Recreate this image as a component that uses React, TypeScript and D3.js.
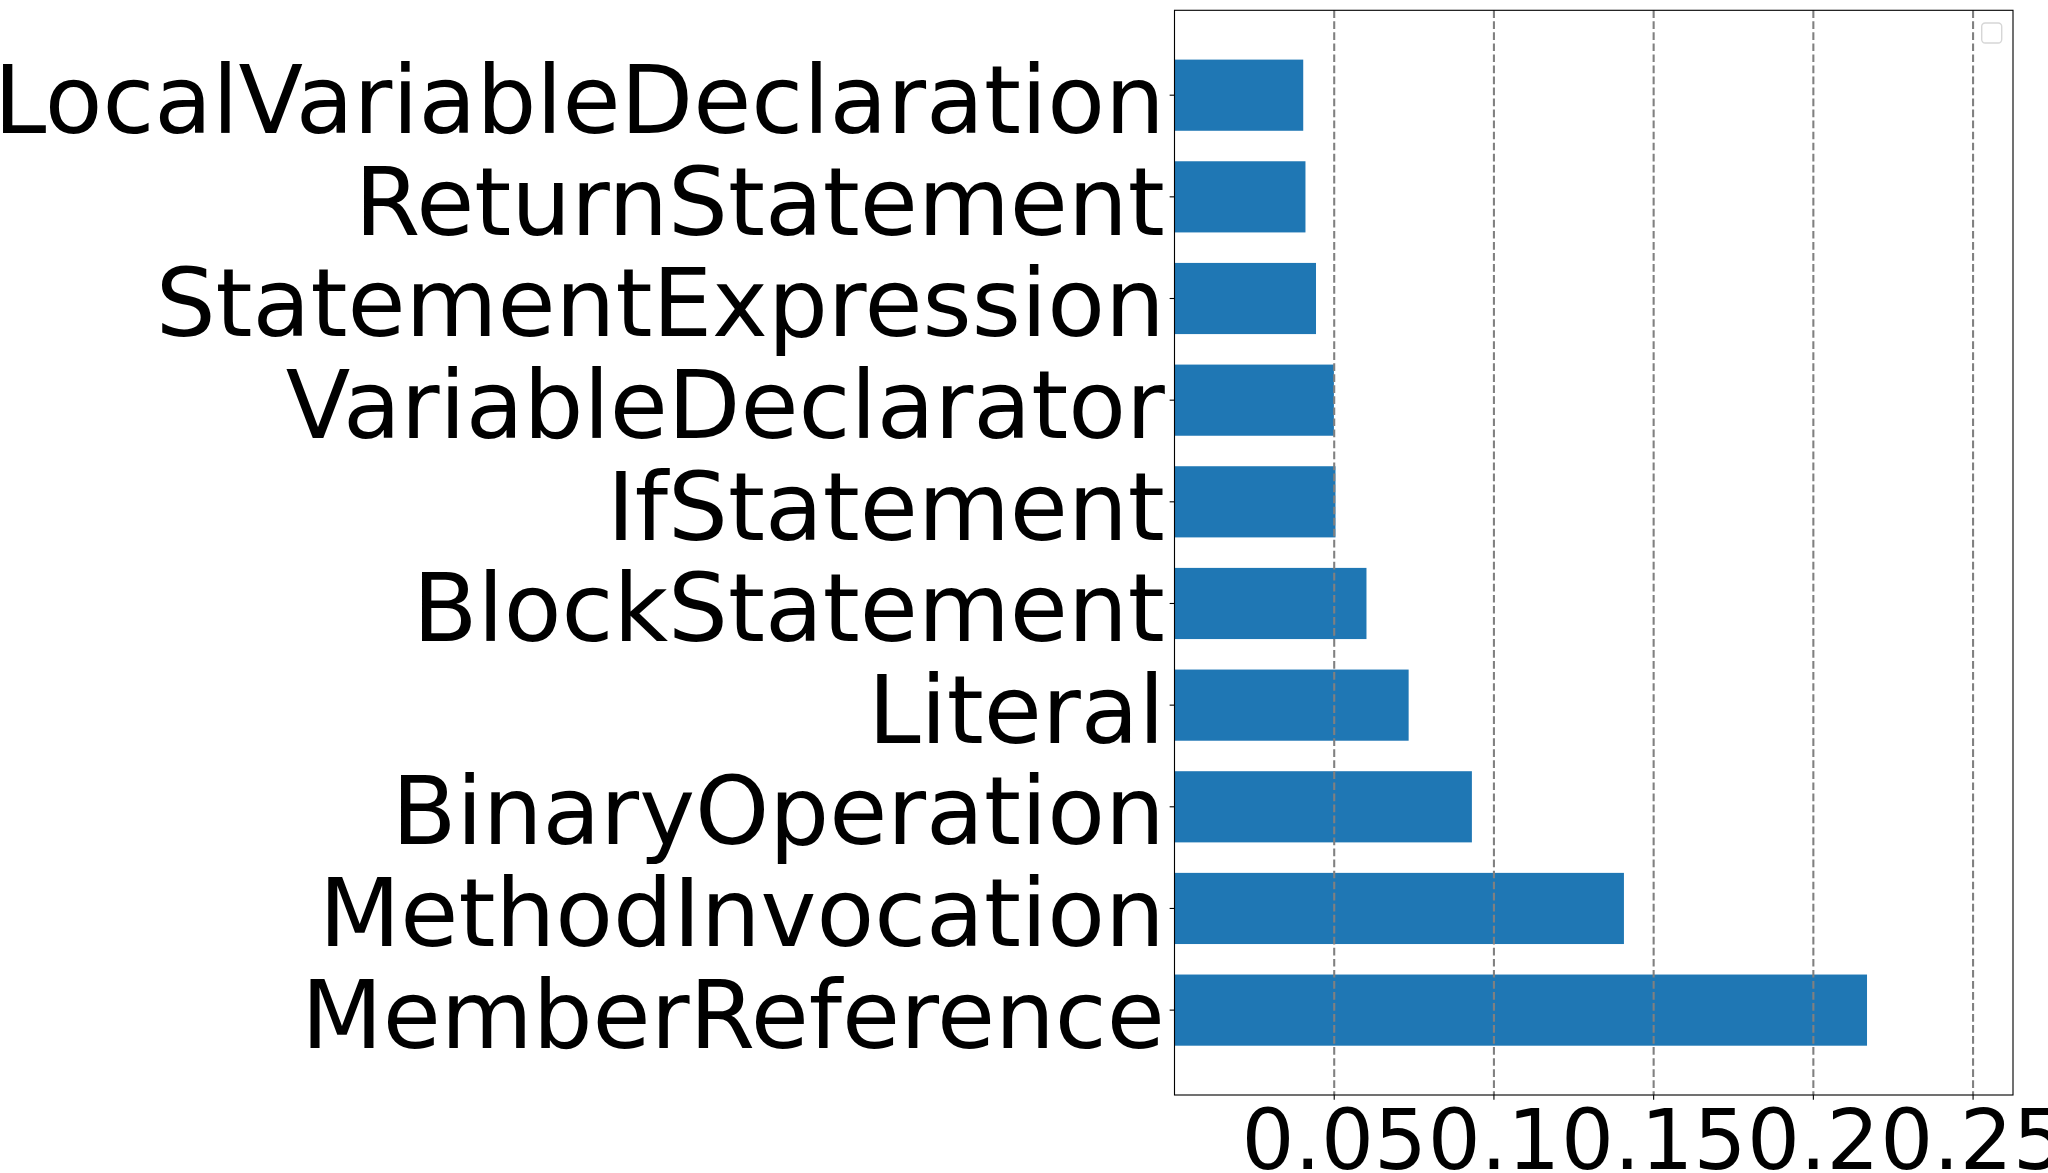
import React from "react";
import * as d3 from "d3";

const categories = [
  "MemberReference",
  "MethodInvocation",
  "BinaryOperation",
  "Literal",
  "BlockStatement",
  "IfStatement",
  "VariableDeclarator",
  "StatementExpression",
  "ReturnStatement",
  "LocalVariableDeclaration",
];
const values = [0.2168, 0.1407, 0.0931, 0.0733, 0.0601, 0.0504, 0.0499, 0.0443, 0.041, 0.0403];
const xTicks = [0.05, 0.1, 0.15, 0.2, 0.25];
const xTickLabels = ["0.05", "0.1", "0.15", "0.2", "0.25"];

const W = 2048;
const H = 1173;
const left = 1174.5;
const right = 2013;
const top = 10.3;
const bottom = 1095;
const FONT = "'DejaVu Sans', sans-serif";
const BAR = "#1f77b4";

export default function App() {
  const x = d3.scaleLinear().domain([0, 0.2625]).range([left, right]);
  const y = d3.scaleLinear().domain([-0.835, categories.length - 1 + 0.835]).range([bottom, top]);
  const barH = Math.abs(y(0.35) - y(-0.35));

  return (
    <svg
      width={W}
      height={H}
      style={{ position: "absolute", left: 0, top: 0, display: "block", background: "#fff" }}
    >
      <rect x={0} y={0} width={W} height={H} fill="#fff" />
      {categories.map((c, i) => (
        <rect
          key={c}
          x={x(0)}
          y={y(i + 0.35)}
          width={x(values[i]) - x(0)}
          height={barH}
          fill={BAR}
        />
      ))}
      {xTicks.map((t) => (
        <line
          key={"g" + t}
          x1={x(t)}
          x2={x(t)}
          y1={top}
          y2={bottom}
          stroke="#808080"
          strokeWidth={2.08}
          strokeDasharray="7.7 3.33"
        />
      ))}
      <rect
        x={left}
        y={top}
        width={right - left}
        height={bottom - top}
        fill="none"
        stroke="#000"
        strokeWidth={1.11}
      />
      {xTicks.map((t, k) => (
        <g key={"t" + t}>
          <line x1={x(t)} x2={x(t)} y1={bottom} y2={bottom + 4.86} stroke="#000" strokeWidth={1.11} />
          <text
            x={x(t)}
            y={bottom + 73.5}
            textAnchor="middle"
            fontFamily={FONT}
            fontSize={83.3}
            fill="#000"
          >
            {xTickLabels[k]}
          </text>
        </g>
      ))}
      {categories.map((c, i) => (
        <g key={"y" + c}>
          <line x1={left - 4.86} x2={left} y1={y(i)} y2={y(i)} stroke="#000" strokeWidth={1.11} />
          <text
            x={left - 9.72}
            y={y(i) + 37.7}
            textAnchor="end"
            fontFamily={FONT}
            fontSize={94.4}
            fill="#000"
          >
            {c}
          </text>
        </g>
      ))}
      <rect
        x={1981.7}
        y={23}
        width={20}
        height={20}
        rx={3.5}
        fill="#fff"
        fillOpacity={0.8}
        stroke="#cccccc"
        strokeOpacity={0.8}
        strokeWidth={1.39}
      />
    </svg>
  );
}
